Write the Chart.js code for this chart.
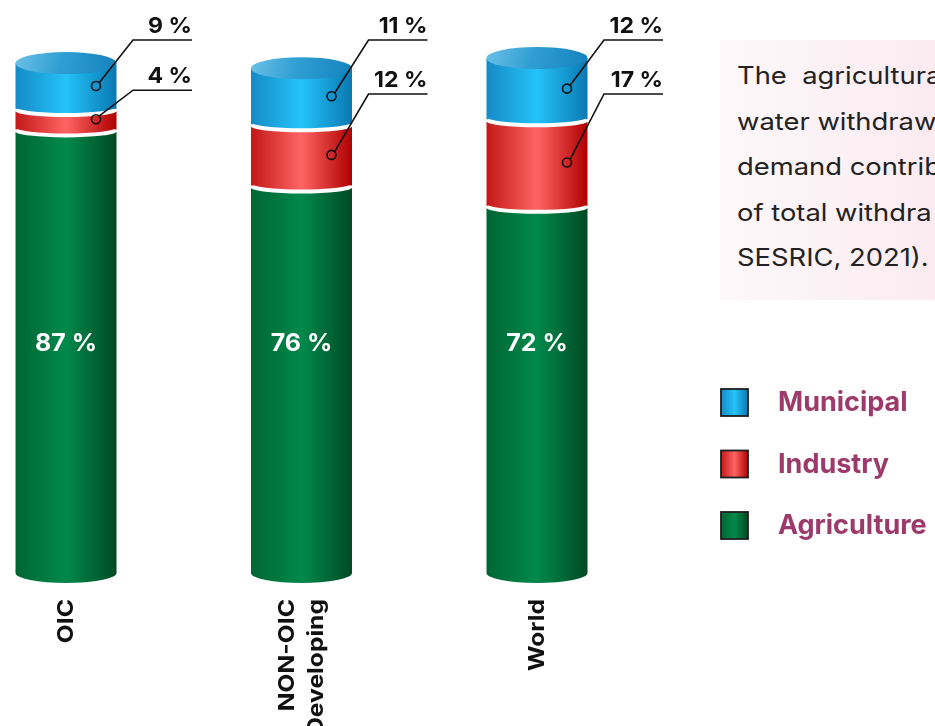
<!DOCTYPE html>
<html>
<head>
<meta charset="utf-8">
<script src="https://cdn.jsdelivr.net/npm/chart.js@4/dist/chart.umd.min.js"></script>
<style>
  html, body { margin: 0; padding: 0; width: 935px; height: 726px; overflow: hidden; background: #fff; }
  #wrap { position: relative; width: 935px; height: 726px; overflow: hidden; }
  #chart { position: absolute; left: 0; top: 0; }
  #note {
    position: absolute; left: 720px; top: 40px; width: 230px; height: 260px;
    background: linear-gradient(90deg, #fdf8fa 0%, #fbeaf0 100%);
  }
  #note p {
    margin: 0; position: absolute; left: 17px; top: 13px;
    font-family: Inter, "Open Sans", sans-serif; font-size: 24px; line-height: 45.5px;
    color: #222; white-space: nowrap;
    transform: scaleX(1.14); transform-origin: 0 0;
  }
</style>
</head>
<body>
<div id="wrap">
  <canvas id="chart" width="935" height="726"></canvas>
  <div id="note"><p>The&nbsp; agricultura<br>water withdraw<br>demand contrib<br>of total withdra<br>SESRIC, 2021).</p></div>
</div>
<script>
// Share of water withdrawal by sector (%)
const categories = [['OIC'], ['NON-OIC', 'Developing'], ['World']];
const agriculture = [87, 76, 72];
const industry = [4, 12, 17];
const municipal = [9, 11, 12];
const seriesNames = ['Agriculture', 'Industry', 'Municipal'];

// dark edge / light centre / dark edge for the cylinder shading
const shades = {
  Agriculture: ['#006633', '#00894b', '#004a24'],
  Industry:    ['#c31818', '#ff6464', '#b00000'],
  Municipal:   ['#168ac6', '#24c3f8', '#0a78b2']
};
const LEGEND_COLOR = '#9c3a6b';
const LABEL_FONT = 'Inter, "Open Sans", sans-serif';

function hGrad(ctx, x0, x1, c) {
  const g = ctx.createLinearGradient(x0, 0, x1, 0);
  g.addColorStop(0, c[0]);
  g.addColorStop(0.5, c[1]);
  g.addColorStop(1, c[2]);
  return g;
}

// text stretched horizontally around its anchor point
function wideText(ctx, text, x, y, sx) {
  ctx.save();
  ctx.translate(x, y);
  ctx.scale(sx, 1);
  ctx.fillText(text, 0, 0);
  ctx.restore();
}

// body of one stacked piece: curved lower edges top and bottom
function segPath(ctx, x0, x1, yTop, yBot, ryTop, ryBot, flatTop) {
  const cx = (x0 + x1) / 2, rx = (x1 - x0) / 2;
  ctx.beginPath();
  ctx.moveTo(x0, yTop);
  if (flatTop) ctx.lineTo(x1, yTop);
  else ctx.ellipse(cx, yTop, rx, ryTop, 0, Math.PI, 0, true);
  ctx.lineTo(x1, yBot);
  ctx.ellipse(cx, yBot, rx, ryBot, 0, 0, Math.PI, false);
  ctx.closePath();
}

const cylinderPlugin = {
  id: 'cylinders',
  afterDatasetsDraw(chart) {
    const ctx = chart.ctx;
    const ds = chart.data.datasets;
    const nCat = chart.data.labels.length;
    const yScale = chart.scales.y;
    const xScale = chart.scales.x;
    const top = chart.chartArea.top;
    const SEP_RY = 6, BOT_RY = 10, CAP_RY = 11;

    ctx.save();
    for (let i = 0; i < nCat; i++) {
      // find the top-most piece of this stack
      let topIdx = 0;
      ds.forEach((d, k) => { if (d.data[i] > 0) topIdx = k; });
      ds.forEach((d, k) => {
        const el = chart.getDatasetMeta(k).data[i];
        const x0 = el.x - el.width / 2, x1 = el.x + el.width / 2;
        segPath(ctx, x0, x1, el.y, el.base, SEP_RY, k === 0 ? BOT_RY : SEP_RY, k === topIdx);
        ctx.fillStyle = hGrad(ctx, x0, x1, shades[d.label]);
        ctx.fill();
      });
      // white separators between pieces
      ds.forEach((d, k) => {
        if (k === 0) return;
        const el = chart.getDatasetMeta(k).data[i];
        ctx.beginPath();
        ctx.ellipse(el.x, el.base, el.width / 2, SEP_RY, 0, Math.PI, 0, true);
        ctx.strokeStyle = '#ffffff';
        ctx.lineWidth = 4;
        ctx.stroke();
      });
      // top cap
      const tEl = chart.getDatasetMeta(topIdx).data[i];
      const tx0 = tEl.x - tEl.width / 2, tx1 = tEl.x + tEl.width / 2;
      const cg = ctx.createLinearGradient(tx0, tEl.y - CAP_RY, tx1, tEl.y + CAP_RY);
      cg.addColorStop(0, '#6cc0e6');
      cg.addColorStop(0.45, '#2f9fd3');
      cg.addColorStop(1, '#1582bd');
      ctx.beginPath();
      ctx.ellipse(tEl.x, tEl.y, tEl.width / 2, CAP_RY, 0, 0, Math.PI * 2);
      ctx.fillStyle = cg;
      ctx.fill();

      // value inside the bottom piece
      const gEl = chart.getDatasetMeta(0).data[i];
      ctx.fillStyle = '#ffffff';
      ctx.font = 'bold 24px ' + LABEL_FONT;
      ctx.textAlign = 'center';
      ctx.textBaseline = 'middle';
      wideText(ctx, ds[0].data[i] + ' %', gEl.x, yScale.getPixelForValue(45), 1.04);

      // call-outs for the upper pieces
      const muniLineY = top - 18;
      [2, 1].forEach(k => {
        const el = chart.getDatasetMeta(k).data[i];
        const mid = (el.y + el.base) / 2;
        const lineY = k === 2 ? muniLineY : Math.min(mid - 29, muniLineY + 54);
        const cxp = el.x + 30, elbow = el.x + 67, end = el.x + 126;
        ctx.strokeStyle = '#111';
        ctx.lineWidth = 1.6;
        ctx.beginPath();
        ctx.moveTo(cxp + 3, mid - 3);
        ctx.lineTo(elbow, lineY);
        ctx.lineTo(end, lineY);
        ctx.stroke();
        ctx.beginPath();
        ctx.arc(cxp, mid, 4.5, 0, Math.PI * 2);
        ctx.stroke();
        ctx.fillStyle = '#111';
        ctx.font = 'bold 22px ' + LABEL_FONT;
        ctx.textAlign = 'right';
        ctx.textBaseline = 'alphabetic';
        wideText(ctx, ds[k].data[i] + ' %', end, lineY - 7, 1.05);
      });

      // rotated category name below the bar
      const lines = chart.data.labels[i];
      const px = xScale.getPixelForValue(i);
      ctx.fillStyle = '#111';
      ctx.font = 'bold 22px ' + LABEL_FONT;
      ctx.textAlign = 'right';
      ctx.textBaseline = 'middle';
      lines.forEach((t, j) => {
        const off = (j - (lines.length - 1) / 2) * 29;
        ctx.save();
        ctx.translate(px + off, yScale.getPixelForValue(0) + 26);
        ctx.rotate(-Math.PI / 2);
        ctx.scale(1.12, 1);
        ctx.fillText(t, 0, 0);
        ctx.restore();
      });
    }

    // legend, top series first
    const order = ds.map((d, k) => k).reverse();
    order.forEach((k, r) => {
      const y = 389 + r * 61.5;
      const c = shades[ds[k].label];
      ctx.fillStyle = hGrad(ctx, 721, 748, c);
      ctx.fillRect(721, y, 27, 27);
      ctx.strokeStyle = '#1e1e1e';
      ctx.lineWidth = 1.8;
      ctx.strokeRect(721, y, 27, 27);
      ctx.fillStyle = LEGEND_COLOR;
      ctx.font = 'bold 27px ' + LABEL_FONT;
      ctx.textAlign = 'left';
      ctx.textBaseline = 'middle';
      ctx.fillText(ds[k].label, 778, y + 14);
    });
    ctx.restore();
  }
};

const seriesValues = [agriculture, industry, municipal];

new Chart(document.getElementById('chart'), {
  type: 'bar',
  data: {
    labels: categories,
    datasets: seriesNames.map((name, k) => ({
      label: name,
      data: seriesValues[k],
      backgroundColor: 'rgba(0,0,0,0)',
      borderWidth: 0,
      barThickness: 101,
      clip: false
    }))
  },
  options: {
    responsive: false,
    animation: false,
    events: [],
    layout: { padding: { left: 66, right: 398, top: 58, bottom: 153 } },
    plugins: { legend: { display: false }, tooltip: { enabled: false } },
    scales: {
      x: { stacked: true, offset: false, display: false },
      y: { stacked: true, min: 0, max: 101, display: false }
    }
  },
  plugins: [cylinderPlugin]
});
</script>
</body>
</html>
